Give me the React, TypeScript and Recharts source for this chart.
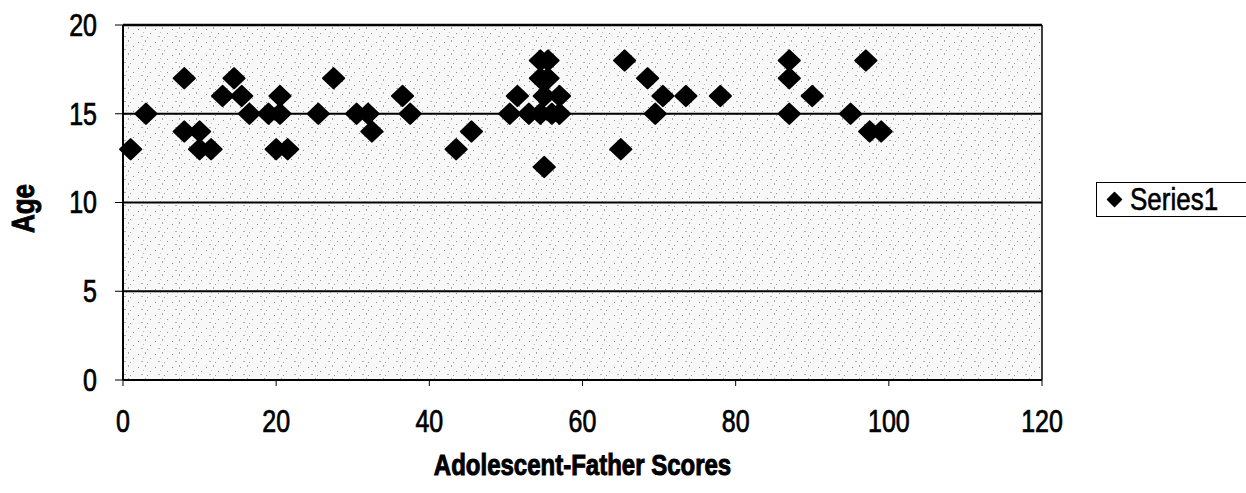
import React from "react";
import {
  ScatterChart,
  Scatter,
  XAxis,
  YAxis,
  CartesianGrid,
  ReferenceLine,
  Legend,
} from "recharts";

// adolescent-father scores (x) and age (y)
const scores = [
  1, 3, 8, 8, 10, 10, 11.5, 13, 14.5, 15.5, 16.5, 19, 20.5, 20.5, 20, 21.5,
  25.5, 27.5, 30.5, 32, 32.5, 36.5, 37.5, 43.5, 45.5, 50.5, 51.5, 53, 54.5,
  55.5, 54.5, 55.5, 55, 57, 54.5, 56, 57, 55, 65.5, 65, 68.5, 69.5, 70.5, 73.5,
  78, 87, 87, 87, 90, 95, 97, 97.5, 99,
];
const ages = [
  13, 15, 17, 14, 14, 13, 13, 16, 17, 16, 15, 15, 16, 15, 13, 13, 15, 17, 15,
  15, 14, 16, 15, 13, 14, 15, 16, 15, 18, 18, 17, 17, 16, 16, 15, 15, 15, 12,
  18, 13, 17, 15, 16, 16, 16, 18, 17, 15, 16, 15, 18, 14, 14,
];
const xTicks = [0, 20, 40, 60, 80, 100, 120];
const yTicks = [0, 5, 10, 15, 20];
const seriesName = "Series1";

const points = scores.map((score, i) => ({ score, age: ages[i] }));

const FONT = "'Liberation Sans', Arial, Helvetica, sans-serif";
const STRETCH = 1.22; // the scan's lettering is a bit taller than plain Arial

const Diamond = (props: any) => {
  const { cx, cy } = props;
  const w = 10.5;
  const h = 10;
  return (
    <path
      d={`M${cx} ${cy - h} L${cx + w} ${cy} L${cx} ${cy + h} L${cx - w} ${cy} Z`}
      fill="#000"
      stroke="#000"
      strokeWidth={2.2}
      strokeLinejoin="round"
    />
  );
};

const XTick = (props: any) => {
  const { x, y, payload } = props;
  return (
    <g transform={`translate(${x},${y}) scale(1,${STRETCH})`}>
      <text
        x={0}
        y={0}
        dy="0.72em"
        textAnchor="middle"
        fontFamily={FONT}
        fontSize={25}
        fill="#000"
        stroke="#000"
        strokeWidth={0.6}
      >
        {payload.value}
      </text>
    </g>
  );
};

const YTick = (props: any) => {
  const { x, y, payload } = props;
  return (
    <g transform={`translate(${x},${y}) scale(1,${STRETCH})`}>
      <text
        x={0}
        y={0}
        dy="0.36em"
        textAnchor="end"
        fontFamily={FONT}
        fontSize={25}
        fill="#000"
        stroke="#000"
        strokeWidth={0.6}
      >
        {payload.value}
      </text>
    </g>
  );
};

const XTitle = (props: any) => {
  const { viewBox } = props;
  const cx = viewBox.x + viewBox.width / 2;
  const by = viewBox.y + 95;
  return (
    <g transform={`translate(${cx},${by}) scale(1,${STRETCH})`}>
      <text
        x={0}
        y={0}
        textAnchor="middle"
        fontFamily={FONT}
        fontWeight="bold"
        fontSize={24}
        fill="#000"
        stroke="#000"
        strokeWidth={0.8}
      >
        Adolescent-Father Scores
      </text>
    </g>
  );
};

const YTitle = (props: any) => {
  const { viewBox } = props;
  const cx = 23;
  const cy = viewBox.y + viewBox.height / 2 + 6;
  return (
    <g transform={`translate(${cx},${cy}) rotate(-90) scale(1,${STRETCH})`}>
      <text
        x={0}
        y={0}
        textAnchor="middle"
        dominantBaseline="central"
        fontFamily={FONT}
        fontWeight="bold"
        fontSize={26}
        fill="#000"
        stroke="#000"
        strokeWidth={0.8}
      >
        Age
      </text>
    </g>
  );
};

const LegendBox = () => (
  <div
    style={{
      border: "1px solid #000",
      borderRight: "none",
      height: 35,
      width: 150,
      boxSizing: "border-box",
      display: "flex",
      alignItems: "center",
      paddingLeft: 9,
      overflow: "hidden",
      fontFamily: FONT,
      fontSize: 26,
      color: "#000",
      background: "#fff",
      whiteSpace: "nowrap",
      WebkitTextStroke: "0.5px #000",
    }}
  >
    <svg width={17} height={17} style={{ marginRight: 7, flex: "none" }}>
      <path
        d="M8.5 1.5 L15.5 8.5 L8.5 15.5 L1.5 8.5 Z"
        fill="#000"
        stroke="#000"
        strokeWidth={1.5}
        strokeLinejoin="round"
      />
    </svg>
    <span style={{ display: "inline-block", transform: `scaleY(${STRETCH})` }}>
      {seriesName}
    </span>
  </div>
);

export default function App() {
  return (
    <div
      style={{
        position: "fixed",
        left: 0,
        top: 0,
        width: 1246,
        height: 493,
        background: "#fff",
        overflow: "hidden",
      }}
    >
      <ScatterChart
        width={1246}
        height={493}
        margin={{ top: 25, right: 204, bottom: 0, left: 0 }}
      >
        <defs>
          <pattern
            id="speck"
            width="17"
            height="13"
            patternUnits="userSpaceOnUse"
          >
            <rect width="17" height="13" fill="#f8f8f8" />
            <rect x="2" y="3" width="1" height="1" fill="#8c8c8c" />
            <rect x="9" y="1" width="1" height="2" fill="#a8a8a8" />
            <rect x="14" y="7" width="1" height="1" fill="#909090" />
            <rect x="5" y="10" width="2" height="1" fill="#b0b0b0" />
            <rect x="11" y="11" width="1" height="1" fill="#9c9c9c" />
            <rect x="7" y="6" width="1" height="1" fill="#bdbdbd" />
          </pattern>
        </defs>
        <CartesianGrid
          vertical={false}
          stroke="#000"
          strokeWidth={2}
          fill="url(#speck)"
          fillOpacity={1}
        />
        <XAxis
          type="number"
          dataKey="score"
          domain={[0, 120]}
          ticks={xTicks}
          height={113}
          stroke="#000"
          strokeWidth={2}
          tickSize={6}
          tickMargin={24}
          tick={<XTick />}
          tickLine={{ stroke: "#000", strokeWidth: 1 }}
          label={<XTitle />}
        />
        <YAxis
          type="number"
          dataKey="age"
          domain={[0, 20]}
          ticks={yTicks}
          width={123}
          stroke="#000"
          strokeWidth={2}
          tickSize={8}
          tickMargin={18}
          tick={<YTick />}
          tickLine={{ stroke: "#000", strokeWidth: 1 }}
          label={<YTitle />}
        />
        <ReferenceLine y={20} stroke="#000" strokeWidth={2.5} />
        <ReferenceLine x={120} stroke="#000" strokeWidth={1.5} />
        <Scatter
          name={seriesName}
          data={points}
          fill="#000"
          shape={<Diamond />}
          isAnimationActive={false}
        />
        <Legend
          layout="horizontal"
          verticalAlign="middle"
          align="center"
          wrapperStyle={{ left: 1096, top: 182, width: 150, height: 35 }}
          content={<LegendBox />}
        />
      </ScatterChart>
    </div>
  );
}
